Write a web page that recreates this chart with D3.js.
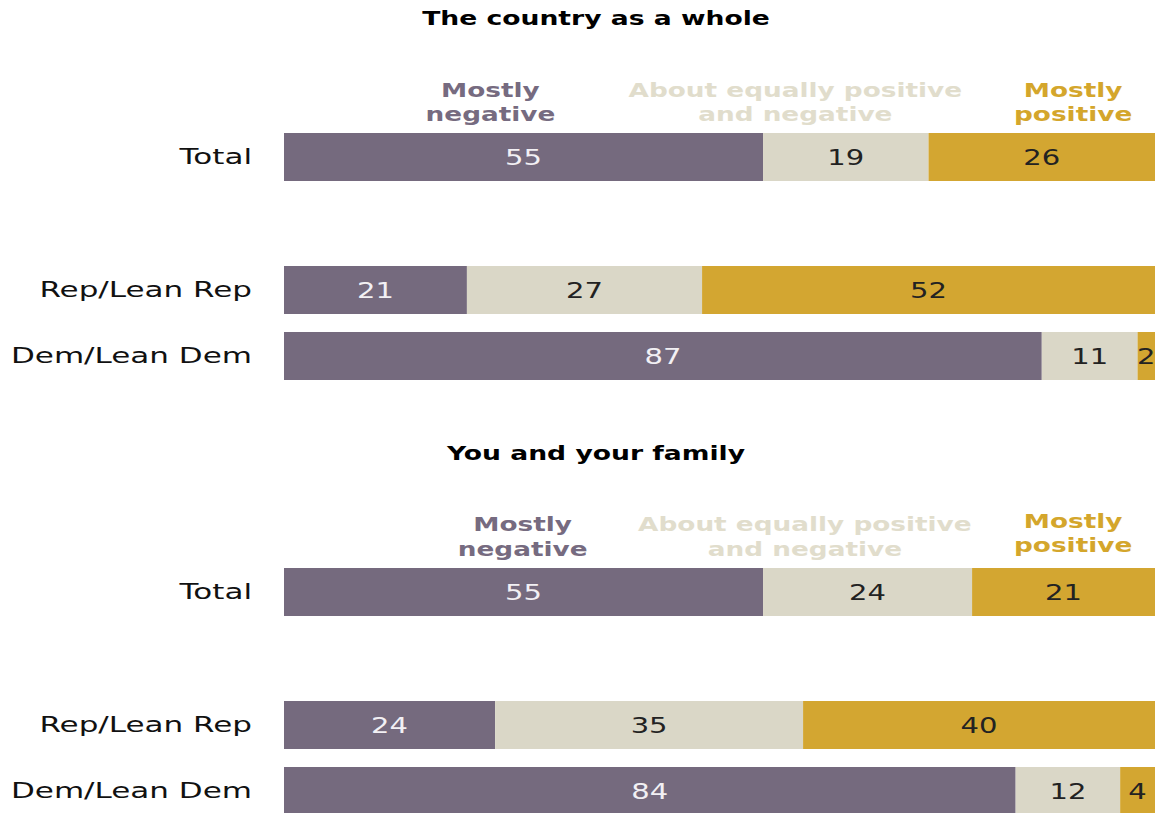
<!DOCTYPE html>
<html><head><meta charset="utf-8">
<script src="https://cdn.jsdelivr.net/npm/d3@7"></script>
<style>body{margin:0;background:#fff}svg{display:block}</style>
</head><body>
<script>
// ---- data ----
const panelTitles = ["The country as a whole", "You and your family"];
const rowLabels = ["Total", "Rep/Lean Rep", "Dem/Lean Dem"];
const seriesNames = ["Mostly negative", "About equally positive and negative", "Mostly positive"];
const legendLines = [["Mostly", "negative"], ["About equally positive", "and negative"], ["Mostly", "positive"]];
const countryNeg = [55, 21, 87];
const countryEq  = [19, 27, 11];
const countryPos = [26, 52, 2];
const familyNeg  = [55, 24, 84];
const familyEq   = [24, 35, 12];
const familyPos  = [21, 40, 4];
// legend label centres, in percent units of the bar scale
const countryLegendAt = [23.7, 58.7, 90.6];
const familyLegendAt  = [27.4, 59.8, 90.6];

// ---- style ----
const colors = ["#756a7e", "#dad7c7", "#d3a631"];
const legendColors = ["#766b80", "#e1ddcc", "#d4a62c"];
const valueColors = ["#f2f0f4", "#222", "#222"];
const SX = 1.35;
const W = 1167, H = 813;

const svg = d3.select("body").append("svg").attr("width", W).attr("height", H);
const x = d3.scaleLinear().domain([0, 100]).range([284, 1155]);

const panels = [
  {title: panelTitles[0], neg: countryNeg, eq: countryEq, pos: countryPos, legendAt: countryLegendAt, top: 0},
  {title: panelTitles[1], neg: familyNeg, eq: familyEq, pos: familyPos, legendAt: familyLegendAt, top: 435}
];

function stretchedText(g, tx, ty, str, opts) {
  return g.append("text")
    .attr("transform", `translate(${tx},${ty}) scale(${opts.sx || SX},1)`)
    .attr("text-anchor", opts.anchor || "middle")
    .style("font-family", "DejaVu Sans, sans-serif")
    .style("font-size", opts.size + "px")
    .style("font-weight", opts.weight || "normal")
    .attr("fill", opts.fill)
    .text(str);
}

panels.forEach((p, pi) => {
  const g = svg.append("g").attr("transform", `translate(0,${p.top})`);
  stretchedText(g, 596, 25, p.title, {size: 19.7, weight: "bold", fill: "#000"});
  const legendLineY = pi === 0 ? [[97, 121], [97, 121], [97, 121]] : [[96, 121], [96, 121], [93, 117]];
  legendLines.forEach((lines, si) => {
    lines.forEach((ln, li) => {
      stretchedText(g, x(p.legendAt[si]), legendLineY[si][li], ln, {size: 19.5, weight: "bold", fill: legendColors[si]});
    });
  });
  const y = d3.scaleOrdinal().domain(rowLabels).range([133, 266, 332]);
  const barH = 48;
  rowLabels.forEach((lab, ri) => {
    const vals = [p.neg[ri], p.eq[ri], p.pos[ri]];
    const total = d3.sum(vals);
    const xr = x.copy().domain([0, total]);
    stretchedText(g, 252, y(lab) + 31, lab, {size: 22, sx: 1.41, anchor: "end", fill: "#111"});
    let cum = 0;
    vals.forEach((v, si) => {
      const x0 = xr(cum), x1 = xr(cum + v);
      g.append("rect").attr("x", x0).attr("y", y(lab)).attr("width", x1 - x0).attr("height", barH)
        .attr("fill", colors[si]);
      stretchedText(g, (x0 + x1) / 2, y(lab) + 32, String(v), {size: 21.5, fill: valueColors[si]});
      cum += v;
    });
  });
});
</script>
</body></html>
